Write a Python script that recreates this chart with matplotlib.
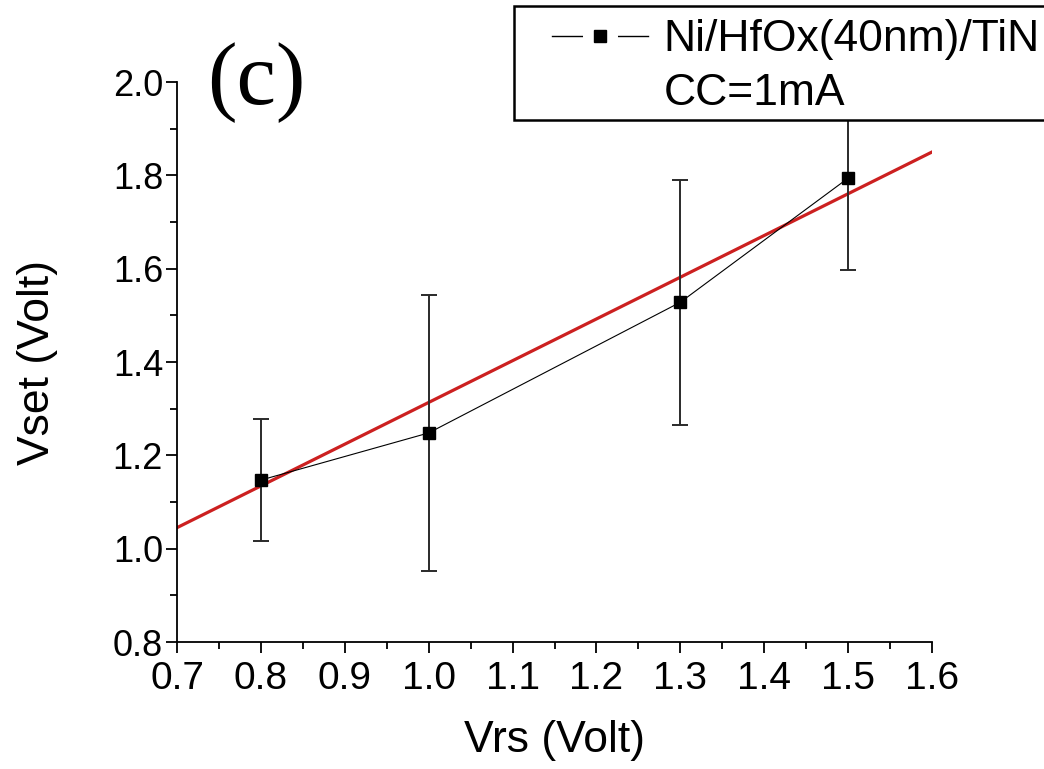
import matplotlib
matplotlib.use("Agg")
import matplotlib.pyplot as plt
from matplotlib.lines import Line2D
from matplotlib.legend_handler import HandlerLine2D, HandlerTuple
from matplotlib.ticker import MultipleLocator, FormatStrFormatter
from matplotlib.transforms import ScaledTranslation

# ---- data ----
vrs = [0.8, 1.0, 1.3, 1.5]
vset = [1.147, 1.248, 1.528, 1.794]
vset_err = [0.13, 0.295, 0.262, 0.197]
fit_x = [0.7, 1.6]
fit_y = [1.045, 1.85]
x_ticks = [0.7, 0.8, 0.9, 1.0, 1.1, 1.2, 1.3, 1.4, 1.5, 1.6]
y_ticks = [0.8, 1.0, 1.2, 1.4, 1.6, 1.8, 2.0]
series_label = "Ni/HfOx(40nm)/TiN"
extra_label = "CC=1mA"

plt.rcParams['font.family'] = ['Liberation Sans', 'DejaVu Sans']

fig = plt.figure(figsize=(10.44, 7.69), dpi=100)
ax = fig.add_axes([177/1044, 1-642/769, (932-177)/1044, (642-82)/769])

ax.plot(fit_x, fit_y, color='#cc2020', lw=2.3, zorder=2)
ax.errorbar(vrs, vset, yerr=vset_err, fmt='none', ecolor='#2a2a2a',
            elinewidth=1.4, capsize=6, capthick=1.4, zorder=3)
line, = ax.plot(vrs, vset, color='black', lw=0.8, marker='s',
                markersize=8.5, markerfacecolor='black',
                markeredgecolor='black', zorder=4)

ax.set_xlim(0.7, 1.6)
ax.set_ylim(0.8, 2.0)
ax.set_xticks(x_ticks)
ax.set_yticks(y_ticks)
ax.xaxis.set_minor_locator(MultipleLocator(0.05))
ax.yaxis.set_minor_locator(MultipleLocator(0.1))
ax.xaxis.set_major_formatter(FormatStrFormatter('%.1f'))
ax.yaxis.set_major_formatter(FormatStrFormatter('%.1f'))
for s in ['top', 'right']:
    ax.spines[s].set_visible(False)
for s in ['left', 'bottom']:
    ax.spines[s].set_linewidth(1.3)
ax.tick_params(which='major', direction='out', length=8, width=1.3)
ax.tick_params(which='minor', direction='out', length=5, width=1.3)
ax.tick_params(axis='x', which='major', labelsize=28, pad=6)
ax.tick_params(axis='y', which='major', labelsize=26, pad=2)

ax.set_xlabel("Vrs (Volt)", fontsize=32)
ax.set_ylabel("Vset (Volt)", fontsize=32)
ax.xaxis.set_label_coords(0.5, -0.14)
ax.yaxis.set_label_coords(-0.158, 0.5)

# legend handle with Origin-style gaps around the marker
h_line = Line2D([], [], color='black', lw=1.0, marker='s', markersize=16.6,
                markerfacecolor='white', markeredgecolor='white',
                markeredgewidth=7.9)
h_mark = Line2D([], [], linestyle='none', marker='s', markersize=8.5,
                markerfacecolor='black', markeredgecolor='black')
blank = Line2D([], [], linestyle='none', marker=None)
leg = fig.legend([(h_line, h_mark), blank], [series_label, extra_label],
                 loc='upper left', bbox_to_anchor=(514/1044, 1-6/769),
                 bbox_transform=fig.transFigure, fontsize=32,
                 frameon=True, fancybox=False, framealpha=1,
                 edgecolor='black', borderpad=0.3, borderaxespad=0,
                 handlelength=2.72, handletextpad=0.34, labelspacing=0.12,
                 numpoints=1,
                 handler_map={tuple: HandlerTuple(ndivide=1, pad=0, xpad=0.56)})
leg.get_frame().set_linewidth(1.8)
leg.set_zorder(10)
t2 = leg.get_texts()[1]
t2.set_transform(t2.get_transform() + ScaledTranslation(0, -7/100, fig.dpi_scale_trans))

fig.text(256/1044, 1-83/769, "(c)", fontsize=64, family='Liberation Serif',
         ha='center', va='center')

fig.savefig("out.png", dpi=100)
